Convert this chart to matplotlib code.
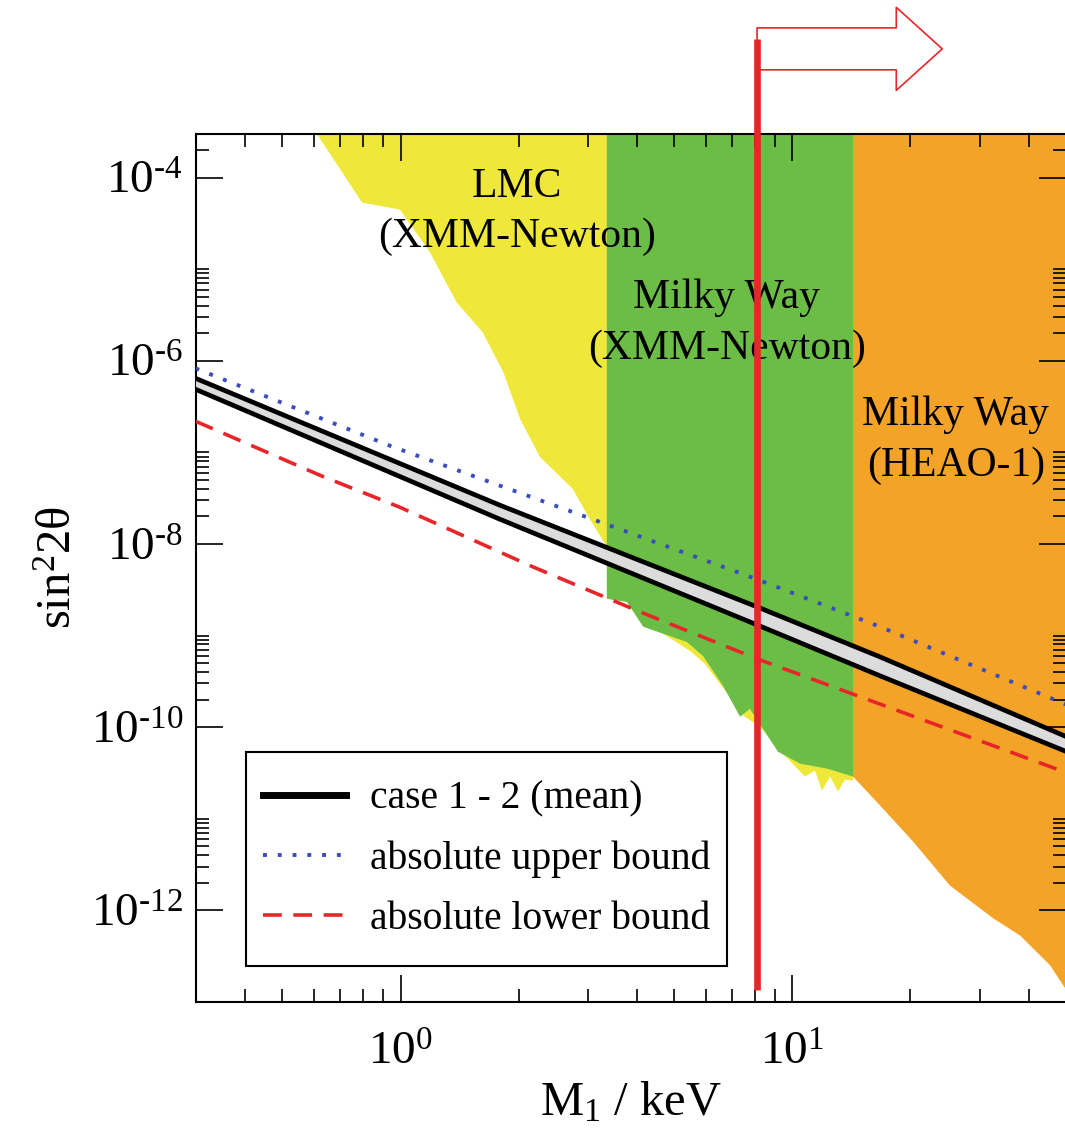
import matplotlib
matplotlib.use('Agg')
import matplotlib.pyplot as plt
from matplotlib.lines import Line2D
from matplotlib.ticker import FixedLocator, FixedFormatter, NullFormatter

plt.rcParams['font.family'] = ['Liberation Serif', 'DejaVu Serif']
plt.rcParams['mathtext.fontset'] = 'custom'
plt.rcParams['mathtext.rm'] = 'Liberation Serif'
plt.rcParams['mathtext.it'] = 'Liberation Serif:italic'
plt.rcParams['mathtext.bf'] = 'Liberation Serif:bold'

# excluded regions, M1 in keV vs sin^2(2 theta)
lmc_x = [0.609, 0.798, 0.997, 1.19, 1.39, 1.62, 1.83, 2.02, 2.27, 2.75, 3.04, 3.36,
         4.08, 5.48, 5.98, 7.56, 8.27, 9.29, 10.76, 11.41, 11.89, 12.47, 13.07, 13.61,
         14.27, 14.27]
lmc_y = [3.1e-4, 5.34e-5, 4.48e-5, 1.52e-5, 4.35e-6, 2.05e-6, 7.5e-7, 2.3e-7, 8.9e-8,
         4.0e-8, 1.87e-8, 9.3e-9, 1.52e-9, 6.8e-10, 4.92e-10, 1.3e-10, 1.01e-10,
         5.54e-11, 2.89e-11, 3.36e-11, 2.03e-11, 2.89e-11, 1.98e-11, 2.68e-11,
         2.61e-11, 3.1e-4]

mw_xmm_x = [3.36, 3.36, 3.78, 4.16, 5.38, 5.91, 6.65, 7.35, 7.79, 8.12, 8.41, 9.18,
            10.45, 12.25, 14.27, 14.27]
mw_xmm_y = [3.1e-4, 2.52e-9, 2.33e-9, 1.25e-9, 8.5e-10, 6.0e-10, 2.83e-10, 1.3e-10,
            1.59e-10, 1.18e-10, 9.6e-11, 5.4e-11, 4.0e-11, 3.53e-11, 2.89e-11, 3.1e-4]

heao_x = [14.27, 14.27, 16.72, 20.3, 25.2, 32.5, 38.1, 45.4, 50.0, 50.0]
heao_y = [3.1e-4, 2.89e-11, 1.40e-11, 5.65e-12, 1.87e-12, 8.2e-13, 5.3e-13, 2.52e-13,
          1.34e-13, 3.1e-4]

# case 1 - 2 (mean) band
band_x = [0.3, 1.79, 8.12, 16.72, 50.0]
band_upper = [6.44e-7, 2.66e-8, 2.06e-9, 5.86e-10, 7.87e-11]
band_lower = [4.89e-7, 1.87e-8, 1.31e-9, 3.64e-10, 5.41e-11]

# absolute bounds
upper_x = [0.3, 0.946, 3.29, 8.07, 16.72, 50.0]
upper_y = [8.28e-7, 1.17e-7, 1.69e-8, 4.16e-9, 1.25e-9, 1.76e-10]
lower_x = [0.3, 0.631, 0.994, 2.18, 4.08, 8.12, 17.2, 50.0]
lower_y = [2.19e-7, 5.5e-8, 2.53e-8, 5.61e-9, 1.82e-9, 5.58e-10, 1.71e-10, 3.19e-11]

legend_labels = ['case 1 - 2 (mean)', 'absolute upper bound', 'absolute lower bound']

# region labels: (x, baseline y, text)
region_labels = [
    (1.98, 6.2e-5, 'LMC'), (1.98, 1.77e-5, '(XMM-Newton)'),
    (6.8, 3.73e-6, 'Milky Way'), (6.8, 1.04e-6, '(XMM-Newton)'),
    (26.1, 1.98e-7, 'Milky Way'), (26.1, 5.5e-8, '(HEAO-1)'),
]

cut_mass = 8.12      # red vertical line
arrow_tip = 24.1

x_major = [1, 10]
x_major_labels = [r'$\mathregular{10^{0}}$', r'$\mathregular{10^{1}}$']
x_minor = [0.3, 0.4, 0.5, 0.6, 0.7, 0.8, 0.9, 2, 3, 4, 5, 6, 7, 8, 9, 20, 30, 40, 50]
y_major_exp = [-12, -10, -8, -6, -4]

yellow = '#efe83a'
green = '#6cbd45'
orange = '#f3a327'
red = '#e8262a'
blue = '#3b4cc0'

fig = plt.figure(figsize=(10.65, 11.35), dpi=100)
ax = fig.add_axes([0.1836, 0.1172, 0.8178, 0.7648])
ax.set_xscale('log')
ax.set_yscale('log')
ax.set_xlim(0.3, 50)
ax.set_ylim(1e-13, 3e-4)

ax.fill(lmc_x, lmc_y, color=yellow, lw=0, zorder=1)
ax.fill(mw_xmm_x, mw_xmm_y, color=green, lw=0, zorder=1.1)
ax.fill(heao_x, heao_y, color=orange, lw=0, zorder=1.2)

ax.fill_between(band_x, band_lower, band_upper, color='#dcdcdc', lw=0, zorder=3)
ax.plot(band_x, band_upper, color='k', lw=3.4, zorder=4)
ax.plot(band_x, band_lower, color='k', lw=3.4, zorder=4)
ax.plot(upper_x, upper_y, color=blue, lw=2.8, ls=(0, (1, 2.8)), zorder=4)
ax.plot(lower_x, lower_y, color=red, lw=2.6, ls=(0, (5.2, 3.2)), zorder=4)

for x, y, s in region_labels:
    ax.text(x, y, s, ha='center', va='baseline', fontsize=30, zorder=5)

# sterile neutrino mass cut and arrow above the frame
ax.axvline(cut_mass, ymin=0.0138, ymax=1.109, color=red, lw=4.8,
           clip_on=False, zorder=8, solid_capstyle='butt')
ax.annotate('', xy=(arrow_tip, 1.098), xytext=(cut_mass, 1.098),
            xycoords=('data', 'axes fraction'),
            arrowprops=dict(arrowstyle='simple,head_length=0.331,head_width=0.598,tail_width=0.302',
                            mutation_scale=100, fc='white', ec=red, lw=1.2,
                            shrinkA=0, shrinkB=0),
            annotation_clip=False, zorder=7)

handles = [Line2D([], [], color='k', lw=5),
           Line2D([], [], color=blue, lw=2.8, ls=(0, (1, 2.8))),
           Line2D([], [], color=red, lw=2.6, ls=(0, (5.2, 3.2)))]
leg = ax.legend(handles, legend_labels, loc='lower left', bbox_to_anchor=(0.058, 0.0548),
                borderaxespad=0, fontsize=28.5, handlelength=2.1, handletextpad=0.6,
                labelspacing=0.58, borderpad=0.42, fancybox=False, framealpha=1,
                edgecolor='k')
# taller frame than the text block: extra padding only in y
frame = leg.get_frame()
frame.set_boxstyle('square', pad=0.01)
frame.set_mutation_aspect(29)
frame.set_linewidth(1.5)
leg.set_zorder(9)

# ticks
ax.xaxis.set_major_locator(FixedLocator(x_major))
ax.xaxis.set_major_formatter(FixedFormatter(x_major_labels))
ax.xaxis.set_minor_locator(FixedLocator(x_minor))
ax.xaxis.set_minor_formatter(NullFormatter())

y_major = [10.0 ** e for e in y_major_exp]
y_minor = [m * 10.0 ** e for e in y_major_exp for m in range(2, 11)]
ax.yaxis.set_major_locator(FixedLocator(y_major))
ax.yaxis.set_major_formatter(FixedFormatter(
    ['$\\mathregular{10^{\u2010%d}}$' % (-e) for e in y_major_exp]))
ax.yaxis.set_minor_locator(FixedLocator(y_minor))
ax.yaxis.set_minor_formatter(NullFormatter())

ax.tick_params(which='both', direction='in', top=True, right=True, width=1.2)
ax.tick_params(which='major', length=19.5, labelsize=34)
ax.tick_params(which='minor', length=9.5)
ax.tick_params(axis='x', which='major', pad=22)
ax.tick_params(axis='y', which='major', pad=9)
for sp in ax.spines.values():
    sp.set_linewidth(1.5)

ax.set_xlabel(r'$\mathrm{M_1}$ / keV', fontsize=35, labelpad=4)
ax.set_ylabel(r'$\mathrm{sin^2 2\theta}$', fontsize=35)
ax.yaxis.set_label_coords(-0.1315, 0.5)

fig.savefig('out.png', dpi=100)
